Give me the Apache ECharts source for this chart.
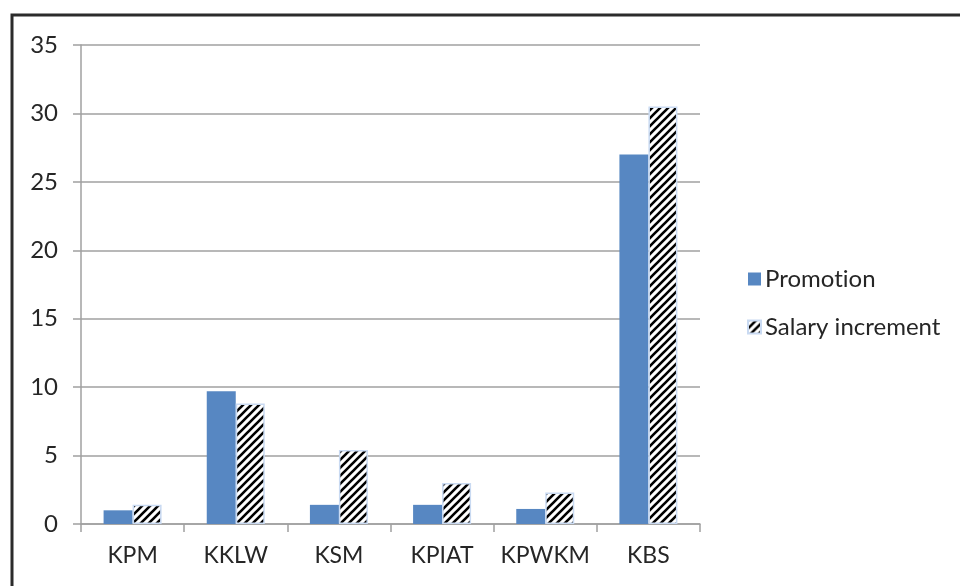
<!DOCTYPE html>
<html>
<head>
<meta charset="utf-8">
<script src="https://cdn.jsdelivr.net/npm/echarts@6/dist/echarts.min.js"></script>
<style>
  html, body { margin: 0; padding: 0; background: #fff; }
  #chart { width: 960px; height: 586px; }
</style>
</head>
<body>
<div id="chart"></div>
<script>
// Categories and values per series
const categories = ['KPM', 'KKLW', 'KSM', 'KPIAT', 'KPWKM', 'KBS'];
const promotion = [1.0, 9.7, 1.4, 1.4, 1.1, 27.0];
const salaryIncrement = [1.4, 8.8, 5.4, 3.0, 2.3, 30.5];
const yTicks = [0, 5, 10, 15, 20, 25, 30, 35];

// Diagonal black-on-white hatch tile
function hatchTile() {
  const s = 8;
  const c = document.createElement('canvas');
  c.width = s; c.height = s;
  const g = c.getContext('2d');
  g.fillStyle = '#ffffff';
  g.fillRect(0, 0, s, s);
  g.strokeStyle = '#000000';
  g.lineWidth = 2.6;
  g.beginPath();
  g.moveTo(-2, s + 2); g.lineTo(s + 2, -2);
  g.moveTo(-2, 2); g.lineTo(2, -2);
  g.moveTo(s - 2, s + 2); g.lineTo(s + 2, s - 2);
  g.stroke();
  return c;
}

// keep "t" and "i" as separate glyphs (no ligature)
const noLig = (s) => s.replace(/ti/g, 't\u200Ci');

const chart = echarts.init(document.getElementById('chart'), null, { renderer: 'canvas' });
const font = 'Lato';
const textColor = '#262626';

chart.setOption({
  backgroundColor: '#ffffff',
  animation: false,
  textStyle: { fontFamily: font },
  graphic: [{
    type: 'rect',
    shape: { x: 12, y: 15, width: 1000, height: 640 },
    style: { fill: 'none', stroke: '#2b2b2b', lineWidth: 3 },
    z: 100
  }],
  grid: { left: 81, right: 260, top: 45, bottom: 62, containLabel: false },
  legend: {
    orient: 'vertical',
    left: 742,
    top: 262,
    itemWidth: 13,
    itemHeight: 13,
    itemGap: 24,
    icon: 'rect',
    formatter: noLig,
    textStyle: { fontFamily: font, fontSize: 24, color: textColor, padding: [0, 0, 0, -1] },
    data: ['Promotion', 'Salary increment']
  },
  xAxis: {
    type: 'category',
    data: categories,
    axisLine: { lineStyle: { color: '#a0a0a0', width: 1.5 } },
    axisTick: { show: true, length: 8, alignWithLabel: false, lineStyle: { color: '#a0a0a0', width: 1.5 } },
    axisLabel: { interval: 0, fontFamily: font, fontSize: 23, color: textColor, margin: 20 }
  },
  yAxis: {
    type: 'value',
    min: yTicks[0],
    max: yTicks[yTicks.length - 1],
    interval: 5,
    axisLine: { show: true, lineStyle: { color: '#a0a0a0', width: 1.5 } },
    axisTick: { show: true, length: 8, lineStyle: { color: '#a0a0a0', width: 1.5 } },
    axisLabel: { fontFamily: font, fontSize: 24, color: textColor, margin: 23 },
    splitLine: { lineStyle: { color: '#a0a0a0', width: 1.5 } }
  },
  series: [
    {
      name: 'Promotion',
      type: 'bar',
      data: promotion,
      barWidth: 29,
      barGap: '0%',
      itemStyle: { color: '#5787c2' }
    },
    {
      name: 'Salary increment',
      type: 'bar',
      data: salaryIncrement,
      barWidth: 29,
      barGap: '0%',
      itemStyle: {
        color: { image: hatchTile(), repeat: 'repeat' },
        borderColor: '#c9daf2',
        borderWidth: 1.5
      }
    }
  ]
});
</script>
</body>
</html>
